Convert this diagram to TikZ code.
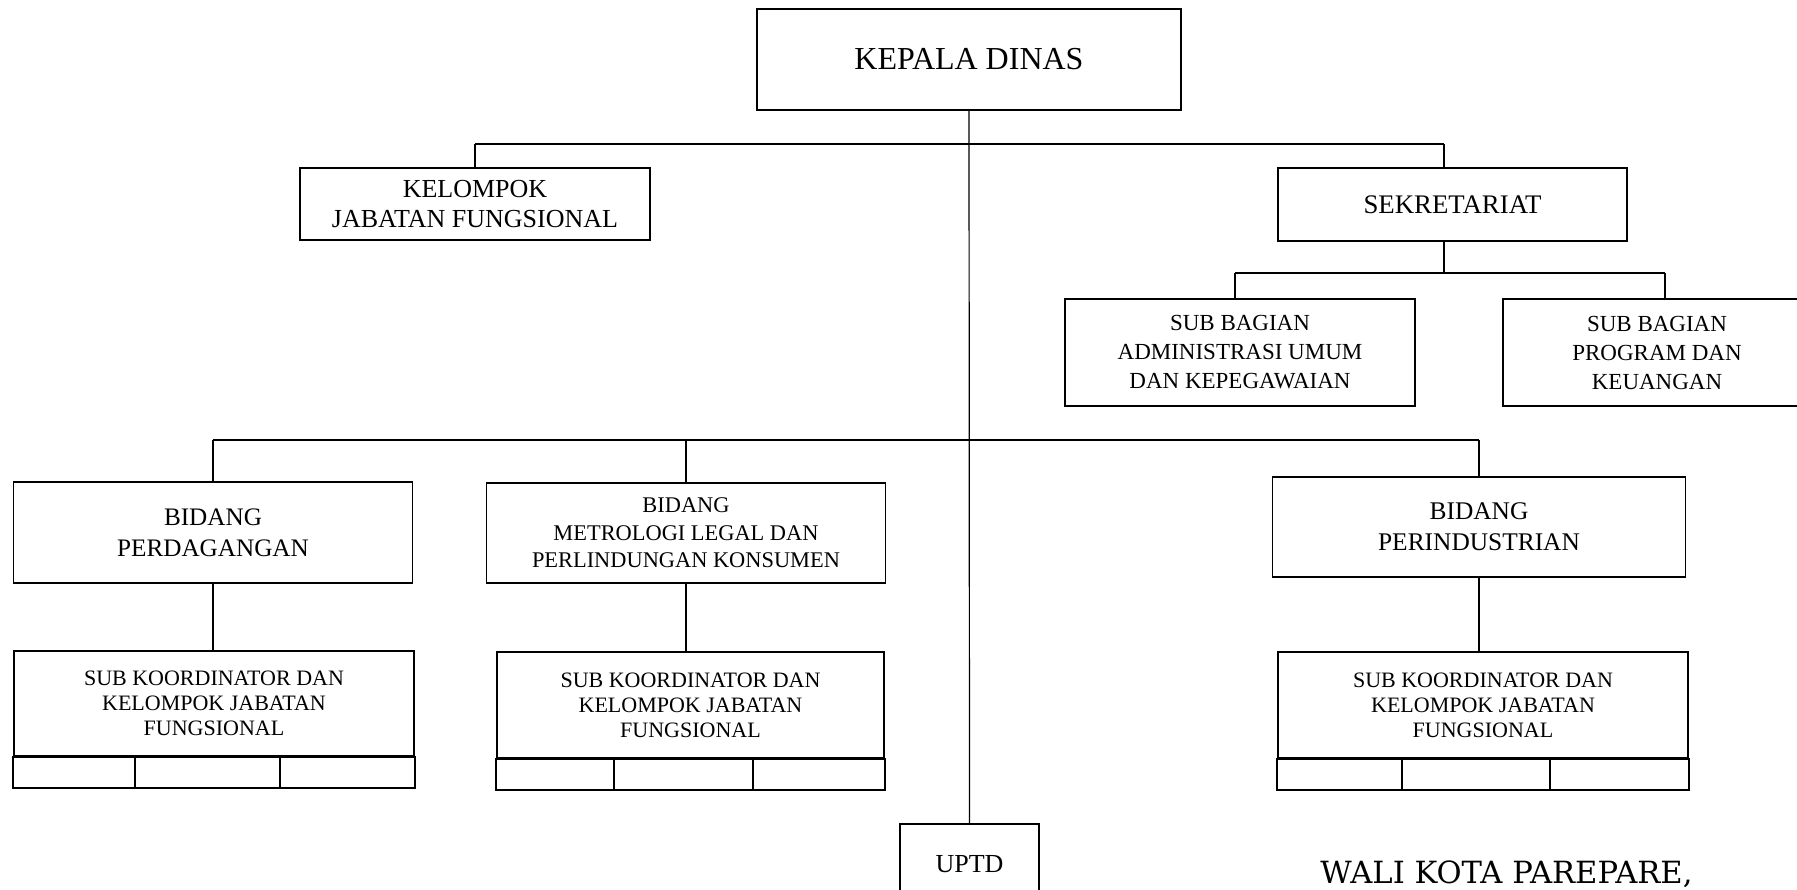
\documentclass[tikz,border=0pt]{standalone}
\usepackage{fontspec}
\setmainfont{Liberation Serif}
\newfontfamily\walifont{DejaVu Serif}
\usetikzlibrary{calc}

\begin{document}
\begin{tikzpicture}[x=0.5pt, y=-0.5pt,
  box/.style={draw, line width=0.9pt, align=center, inner sep=0pt},
  link/.style={line width=0.7pt}]

  \useasboundingbox (0,0) rectangle (1797,889);
  \clip (0,0) rectangle (1797,889);

  % Top
  \node[box, minimum width=212pt, minimum height=50.5pt,
        font=\fontsize{16}{19}\selectfont] (kepala) at (969,59.5)
    {KEPALA DINAS};
  \node[box, minimum width=175pt, minimum height=36pt,
        font=\fontsize{13}{15}\selectfont] (kjf) at (475,204)
    {KELOMPOK\\ JABATAN FUNGSIONAL};
  \node[box, minimum width=174.5pt, minimum height=36.5pt,
        font=\fontsize{13.4}{15}\selectfont] (sekre) at (1452.5,204.5)
    {SEKRETARIAT};

  % Sub bagian
  \node[box, minimum width=175pt, minimum height=53.5pt,
        font=\fontsize{11.5}{14.5}\selectfont] (adm) at (1240,352.5)
    {SUB BAGIAN\\ ADMINISTRASI UMUM\\ DAN KEPEGAWAIAN};
  \node[box, minimum width=154pt, minimum height=53.5pt,
        font=\fontsize{11.5}{14.5}\selectfont] (prog) at (1657,352.5)
    {SUB BAGIAN\\ PROGRAM DAN\\ KEUANGAN};

  % Bidang
  \node[box, minimum width=199.5pt, minimum height=50.5pt,
        font=\fontsize{12.6}{15.5}\selectfont] (perdag) at (213,532.5)
    {BIDANG\\ PERDAGANGAN};
  \node[box, minimum width=199.5pt, minimum height=50pt,
        font=\fontsize{11.2}{13.75}\selectfont] (metro) at (686,533)
    {BIDANG\\ METROLOGI LEGAL DAN\\ PERLINDUNGAN KONSUMEN};
  \node[box, minimum width=206.5pt, minimum height=50pt,
        font=\fontsize{12.7}{15.5}\selectfont] (perind) at (1479,527)
    {BIDANG\\ PERINDUSTRIAN};

  % Sub koordinator
  \node[box, minimum width=200pt, minimum height=52.5pt,
        font=\fontsize{11}{12.5}\selectfont] (sub1) at (214,703.5)
    {SUB KOORDINATOR DAN\\ KELOMPOK JABATAN\\ FUNGSIONAL};
  \node[box, minimum width=193.5pt, minimum height=53pt,
        font=\fontsize{11}{12.5}\selectfont] (sub2) at (690.5,705)
    {SUB KOORDINATOR DAN\\ KELOMPOK JABATAN\\ FUNGSIONAL};
  \node[box, minimum width=205pt, minimum height=53pt,
        font=\fontsize{11}{12.5}\selectfont] (sub3) at (1483,705)
    {SUB KOORDINATOR DAN\\ KELOMPOK JABATAN\\ FUNGSIONAL};

  \draw[line width=0.9pt] (sub1.south west) rectangle ($(sub1.south east)+(0,31)$);
  \draw[line width=0.9pt] (sub2.south west) rectangle ($(sub2.south east)+(0,31)$);
  \draw[line width=0.9pt] (sub3.south west) rectangle ($(sub3.south east)+(0,31)$);
  \foreach \x in {135,280} \draw[line width=0.9pt] (\x,756) -- (\x,787);
  \foreach \x in {614,753} \draw[line width=0.9pt] (\x,758) -- (\x,789);
  \foreach \x in {1402,1550} \draw[line width=0.9pt] (\x,758) -- (\x,789);

  % UPTD
  \node[box, minimum width=69.5pt, minimum height=40pt,
        font=\fontsize{13}{15}\selectfont] (uptd) at (969.5,864)
    {UPTD};

  \node[font=\walifont\fontsize{15.3}{18}\selectfont, anchor=base west,
        inner sep=0pt] (wali) at (1320,883)
    {WALI KOTA PAREPARE,};

  \coordinate (bar1l) at (475,144);
  \coordinate (bar1r) at (1444,144);
  \coordinate (bar2l) at (1235,273);
  \coordinate (bar2r) at (1665,273);
  \coordinate (bar3l) at (213,440);
  \coordinate (bar3r) at (1479,440);

  \draw[link, line width=0.6pt] (kepala.south) -- (uptd.north);
  \draw[link] (bar1l) -- (bar1r);
  \draw[link] (bar1l) -- (kjf.north);
  \draw[link] (bar1r) -- (bar1r |- sekre.north);
  \draw[link] (sekre.south -| bar1r) -- (bar1r |- bar2l);
  \draw[link] (bar2l) -- (bar2r);
  \draw[link] (bar2l) -- (bar2l |- adm.north);
  \draw[link] (bar2r) -- (bar2r |- prog.north);
  \draw[link] (bar3l) -- (bar3r);
  \draw[link] (bar3l) -- (perdag.north);
  \draw[link] (bar3l -| metro.north) -- (metro.north);
  \draw[link] (bar3r) -- (perind.north);
  \draw[link] (perdag.south) -- (perdag.south |- sub1.north);
  \draw[link] (metro.south) -- (metro.south |- sub2.north);
  \draw[link] (perind.south) -- (perind.south |- sub3.north);

\end{tikzpicture}
\end{document}
